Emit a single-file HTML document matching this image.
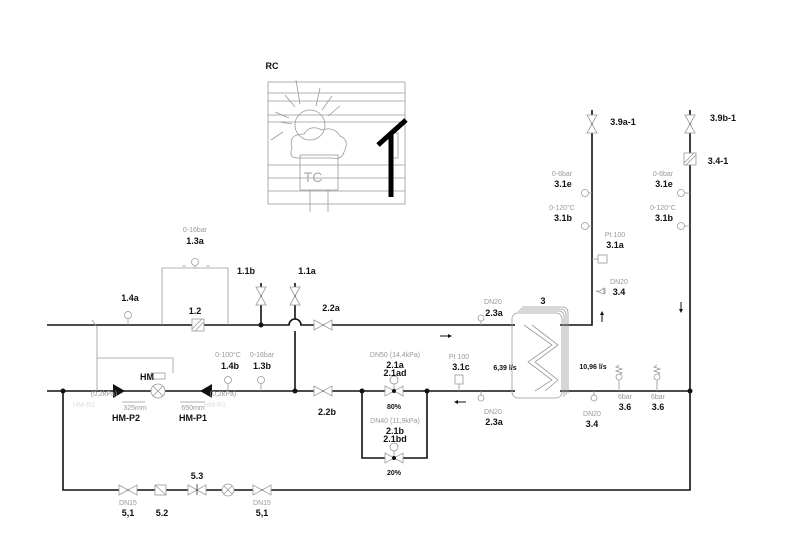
<!DOCTYPE html>
<html><head><meta charset="utf-8"><style>
html,body{margin:0;padding:0;background:#fff;}
svg{display:block;font-family:"Liberation Sans",sans-serif;}
.b{font-size:9px;font-weight:bold;fill:#111;text-anchor:middle}
.g{font-size:7px;fill:#999;text-anchor:middle}
.k{stroke:#111;stroke-width:1.6;fill:none}
.gl{stroke:#999;stroke-width:0.8;fill:none}
.v{stroke:#999;stroke-width:0.8;fill:#fff}
</style></head><body>
<svg width="800" height="545" viewBox="0 0 800 545" xmlns="http://www.w3.org/2000/svg">
<defs>
<g id="vh"><path d="M-9,-5 L9,5 L9,-5 L-9,5 Z" class="v"/></g>
<g id="vv"><path d="M-5,-9 L5,9 L-5,9 L5,-9 Z" class="v"/></g>
</defs>
<path class="k" d="M47,325 H289 A6,6 0 0 1 301,325 H515"/>
<path class="k" d="M47,391 H515"/>
<path class="k" d="M560,325 H592 V110"/>
<path class="k" d="M560,391 H690"/>
<path class="k" d="M690,110 V490 H63 V391"/>
<path class="k" d="M261,283 V325"/>
<path class="k" d="M295,283 V319 M295,331 V391"/>
<path class="k" d="M362,391 V458 H427 V391"/>
<g fill="#111"><circle cx="63" cy="391" r="2.5"/><circle cx="261" cy="325" r="2.5"/><circle cx="295" cy="391" r="2.5"/><circle cx="362" cy="391" r="2.5"/><circle cx="427" cy="391" r="2.5"/><circle cx="690" cy="391" r="2.5"/></g>
<!-- stems -->
<path class="gl" d="M128,319 V325 M228,384 V391 M261,384 V391 M195,266 V268 M589,193 H592 M589,226 H592 M685,193 H690 M685,226 H690 M592,259 H598 M459,384 V391 M481,321 V325 M481,391 V395 M594,391 V395 M619,380 V391 M657,380 V391 M394,384 V391 M394,451 V458"/>
<path class="gl" d="M619,365 l-3,2 l6,2 l-6,2 l6,2 l-3,2 M657,365 l-3,2 l6,2 l-6,2 l6,2 l-3,2"/>
<use href="#vh" x="323" y="325"/><use href="#vh" x="323" y="391"/>
<use href="#vv" x="261" y="296"/><use href="#vv" x="295" y="296"/>
<use href="#vh" x="394" y="391"/><use href="#vh" x="394" y="458"/>
<use href="#vv" x="592" y="124"/><use href="#vv" x="690" y="124"/>
<use href="#vh" x="128" y="490"/><use href="#vh" x="262" y="490"/><use href="#vh" x="197" y="490"/>
<path d="M197,484 V495" stroke="#333" stroke-width="0.8"/>
<circle cx="394" cy="391" r="2" fill="#111"/><circle cx="394" cy="458" r="2" fill="#111"/>
<circle cx="394" cy="380" r="4" class="v"/><circle cx="394" cy="447" r="4" class="v"/>
<rect x="155" y="485" width="11" height="10" class="v"/><path d="M155,485 L166,495" class="gl"/>
<circle cx="228" cy="490" r="6" class="v"/><path d="M224,486 L232,494 M232,486 L224,494" class="gl"/>
<rect x="192" y="319" width="12" height="12" class="v"/><path d="M192,329 L202,319 M195,331 L204,322" class="gl"/>
<path class="gl" d="M162,325 V268 H228 V325"/>
<circle cx="195" cy="262" r="3.5" class="v"/>
<path class="gl" d="M182,266 h4 M206,266 h4"/>
<rect x="684" y="153" width="12" height="12" class="v"/><path d="M684,163 L694,153 M686,165 L696,155" class="gl"/>
<g class="v"><circle cx="128" cy="315" r="3.5"/><circle cx="228" cy="380" r="3.5"/><circle cx="261" cy="380" r="3.5"/>
<circle cx="585" cy="193" r="3.5"/><circle cx="585" cy="226" r="3.5"/><circle cx="681" cy="193" r="3.5"/><circle cx="681" cy="226" r="3.5"/>
<rect x="598" y="255" width="9" height="8"/><rect x="455" y="375" width="8" height="9"/>
<circle cx="481" cy="318" r="3"/><circle cx="481" cy="398" r="3"/><circle cx="594" cy="398" r="3"/><circle cx="619" cy="377" r="3"/><circle cx="657" cy="377" r="3"/></g>
<path class="gl" d="M596,291 h4 l4,-3 v6 z M605,288 v6"/>
<path class="gl" d="M97,327 V391 M97,358 H173 V373 M92,320 L97,327"/>
<circle cx="158" cy="391" r="7" class="v"/><path class="gl" d="M153,386 L163,396 M163,386 L153,396"/>
<rect x="151" y="373" width="14" height="6" class="v"/>
<path d="M113,384 L125,391 L113,398 Z" fill="#111"/><path d="M212,384 L200,391 L212,398 Z" fill="#111"/>
<path class="gl" d="M122,402 H145 M180,402 H205"/>
<!-- HX -->
<rect x="512" y="313" width="50" height="85" rx="6" class="gl"/>
<path class="gl" d="M518,311 h40 q6,0 6,6 v80 M520,309 h40 q6,0 6,6 v80 M522,307 h40 q6,0 6,6 v80"/>
<path class="gl" d="M524,325 L552,345 L528,362 L552,380 L535,391 M532,325 L558,345 L535,362 L558,380 L545,391"/>
<path d="M440,336 h10" stroke="#111" stroke-width="1"/><path d="M448,334 l4,2 l-4,2z" fill="#111"/>
<path d="M456,402 h10" stroke="#111" stroke-width="1"/><path d="M458,400 l-4,2 l4,2z" fill="#111"/>
<path d="M602,322 v-8" stroke="#111"/><path d="M600,315 l2,-4 l2,4z" fill="#111"/>
<path d="M681,302 v8" stroke="#111"/><path d="M679,309 l2,4 l2,-4z" fill="#111"/>
<!-- RC -->
<g class="gl">
<rect x="268" y="82" width="137" height="122"/>
<path d="M268,93 H405 M268,101 H405 M268,115 H405 M268,122 H405 M268,165 H405 M268,178 H405 M268,191 H405"/>
<circle cx="310" cy="125" r="15"/>
<path d="M292,148 q-4,-14 12,-14 q6,-10 18,-4 q12,-4 18,6 q10,4 4,16 q-2,8 -12,6 h-34 q-10,0 -6,-10 z"/>
<rect x="300" y="155" width="38" height="35"/>
<path d="M310,190 V212 M328,190 V212"/>
<path d="M285,95 l10,12 M296,80 l4,24 M320,88 l-4,18 M332,96 l-10,14 M340,106 l-12,10 M275,112 l14,6 M283,132 l-12,8 M280,122 l12,2"/>
<rect x="390" y="133" width="8" height="25"/>
</g>
<text x="313" y="182" font-size="14" fill="#aaa" text-anchor="middle" font-family="Liberation Sans">TC</text>
<path d="M391,197 V132 M378,145 L406,120" stroke="#000" stroke-width="5" fill="none"/>
<!-- labels -->
<text class="b" x="272" y="69">RC</text>
<text class="g" x="195" y="232">0-16bar</text><text class="b" x="195" y="244">1.3a</text>
<text class="b" x="130" y="301">1.4a</text><text class="b" x="195" y="314">1.2</text>
<text class="b" x="246" y="274">1.1b</text><text class="b" x="307" y="274">1.1a</text>
<text class="b" x="331" y="311">2.2a</text><text class="b" x="327" y="415">2.2b</text>
<text class="g" x="228" y="357">0-100°C</text><text class="b" x="230" y="369">1.4b</text>
<text class="g" x="262" y="357">0-16bar</text><text class="b" x="262" y="369">1.3b</text>
<text class="b" x="147" y="380">HM</text>
<text class="g" x="104" y="396">(0,2kPa)</text><text class="g" x="84" y="407" style="fill:#ddd">HM-R2</text>
<text class="g" x="223" y="396">(0,2kPa)</text><text class="g" x="215" y="407" style="fill:#ddd">HM-R1</text>
<text class="g" x="135" y="410">325mm</text><text class="b" x="126" y="421">HM-P2</text>
<text class="g" x="193" y="410">650mm</text><text class="b" x="193" y="421">HM-P1</text>
<text class="g" x="395" y="357">DN50 (14,4kPa)</text><text class="b" x="395" y="368">2.1a</text><text class="b" x="395" y="376">2.1ad</text>
<text class="b" x="394" y="409" style="font-size:7px">80%</text>
<text class="g" x="395" y="423">DN40 (11,9kPa)</text><text class="b" x="395" y="434">2.1b</text><text class="b" x="395" y="442">2.1bd</text>
<text class="b" x="394" y="475" style="font-size:7px">20%</text>
<text class="g" x="459" y="359">Pt 100</text><text class="b" x="461" y="370">3.1c</text>
<text class="g" x="493" y="304">DN20</text><text class="b" x="494" y="316">2.3a</text>
<text class="g" x="493" y="414">DN20</text><text class="b" x="494" y="425">2.3a</text>
<text class="b" x="543" y="304">3</text>
<text class="b" x="505" y="370" style="font-size:7px">6,39 l/s</text>
<text class="b" x="593" y="369" style="font-size:7px">10,96 l/s</text>
<text class="g" x="592" y="416">DN20</text><text class="b" x="592" y="427">3.4</text>
<text class="g" x="625" y="399">6bar</text><text class="b" x="625" y="410">3.6</text>
<text class="g" x="658" y="399">6bar</text><text class="b" x="658" y="410">3.6</text>
<text class="b" x="623" y="125">3.9a-1</text><text class="b" x="723" y="121">3.9b-1</text>
<text class="b" x="718" y="164">3.4-1</text>
<text class="g" x="562" y="176">0-6bar</text><text class="b" x="563" y="187">3.1e</text>
<text class="g" x="562" y="210">0-120°C</text><text class="b" x="563" y="221">3.1b</text>
<text class="g" x="663" y="176">0-6bar</text><text class="b" x="664" y="187">3.1e</text>
<text class="g" x="663" y="210">0-120°C</text><text class="b" x="664" y="221">3.1b</text>
<text class="g" x="615" y="237">Pt 100</text><text class="b" x="615" y="248">3.1a</text>
<text class="g" x="619" y="284">DN20</text><text class="b" x="619" y="295">3.4</text>
<text class="g" x="128" y="505">DN15</text><text class="b" x="128" y="516">5,1</text>
<text class="b" x="162" y="516">5.2</text><text class="b" x="197" y="479">5.3</text>
<text class="g" x="262" y="505">DN15</text><text class="b" x="262" y="516">5,1</text>
</svg>
</body></html>
